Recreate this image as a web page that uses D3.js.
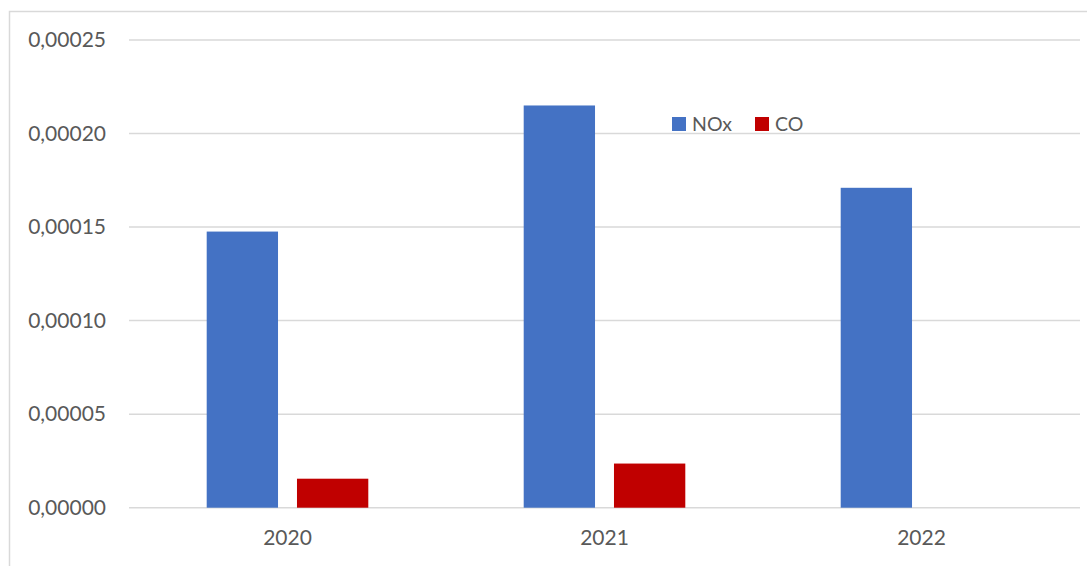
<script src="https://cdn.jsdelivr.net/npm/d3@7"></script>

<style>
    body {margin: 0; background: #ffffff;}
    #chart text {font-family: Lato, "Open Sans", sans-serif; fill: #595959;}
    .grid line {stroke: #d9d9d9; stroke-width: 1.5;}
    .y-axis text {font-size: 21px;}
    .x-axis text {font-size: 21px;}
    .legend text {font-size: 19.5px;}
</style>

<div id="chart"></div>

<script>
    // values
    let years = ["2020", "2021", "2022"];
    let series = ["NOx", "CO"];
    let noxValues = [0.0001476, 0.000215, 0.000171];
    let coValues = [0.0000155, 0.0000236, 0];
    let yTicks = [0, 0.00005, 0.0001, 0.00015, 0.0002, 0.00025];
    let colors = ["#4472c4", "#c00000"];

    let data = years.map(function(d, i) {
        return {year: d, NOx: noxValues[i], CO: coValues[i]};
    });

    let width = 1087, height = 566;
    let plot = {left: 129, right: 1080, top: 40, bottom: 507.7};

    let locale = d3.formatLocale({decimal: ",", thousands: ".", grouping: [3], currency: ["", ""]});
    let formatTick = locale.format(".5f");

    let svg = d3.select("#chart")
        .append("svg")
        .attr("width", width)
        .attr("height", height);

    // chart area border (left and top only visible)
    svg.append("path")
        .attr("d", "M9.5," + height + "V11.5H" + width)
        .attr("fill", "none")
        .attr("stroke", "#d9d9d9")
        .attr("stroke-width", 1.5);

    let x0 = d3.scaleBand()
        .domain(years)
        .range([plot.left, plot.right]);

    let groupWidth = 161.6;
    let x1 = d3.scaleBand()
        .domain(series)
        .range([(x0.bandwidth() - groupWidth) / 2, (x0.bandwidth() + groupWidth) / 2])
        .paddingInner(0.21);

    let y = d3.scaleLinear()
        .domain([0, 0.00025])
        .range([plot.bottom, plot.top]);

    svg.append("g")
        .attr("class", "grid")
        .selectAll("line")
        .data(yTicks)
        .enter().append("line")
        .attr("x1", plot.left)
        .attr("x2", plot.right)
        .attr("y1", d => y(d))
        .attr("y2", d => y(d));

    let yAxis = d3.axisLeft(y)
        .tickValues(yTicks)
        .tickSize(0)
        .tickPadding(0)
        .tickFormat(formatTick);

    svg.append("g")
        .attr("class", "y-axis")
        .attr("transform", "translate(106,0)")
        .call(yAxis)
        .call(g => g.select(".domain").remove());

    let xAxis = d3.axisBottom(x0)
        .tickSize(0)
        .tickPadding(0);

    svg.append("g")
        .attr("class", "x-axis")
        .attr("transform", "translate(0," + (plot.bottom + 22) + ")")
        .call(xAxis)
        .call(g => g.select(".domain").remove());

    let groups = svg.selectAll(".year")
        .data(data)
        .enter().append("g")
        .attr("class", "year")
        .attr("transform", d => "translate(" + x0(d.year) + ",0)");

    groups.selectAll("rect")
        .data(d => series.map((s, i) => ({key: s, value: d[s], color: colors[i]})))
        .enter().append("rect")
        .attr("x", d => x1(d.key))
        .attr("width", x1.bandwidth())
        .attr("y", d => y(d.value))
        .attr("height", d => y(0) - y(d.value))
        .style("fill", d => d.color);

    let legend = svg.append("g")
        .attr("class", "legend")
        .attr("transform", "translate(672,117)");

    let legendX = [0, 83];
    series.forEach(function(s, i) {
        let item = legend.append("g")
            .attr("transform", "translate(" + legendX[i] + ",0)");
        item.append("rect")
            .attr("width", 14)
            .attr("height", 14)
            .style("fill", colors[i]);
        item.append("text")
            .attr("x", 20)
            .attr("y", 14)
            .text(s);
    });
</script>
